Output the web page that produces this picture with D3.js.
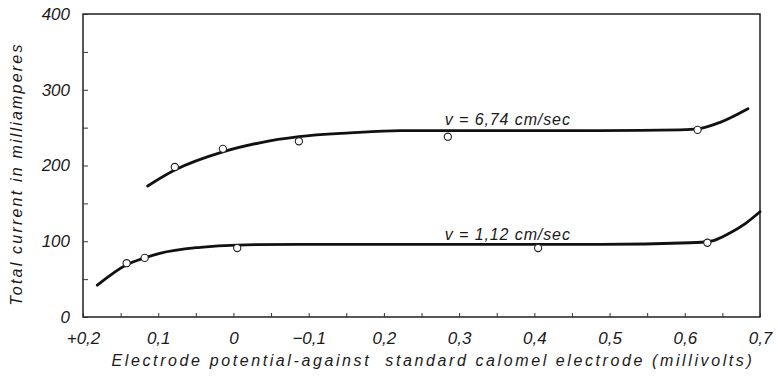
<!DOCTYPE html>
<html>
<head>
<meta charset="utf-8">
<script src="https://cdn.jsdelivr.net/npm/d3@7"></script>
<style>
  body { margin: 0; background: #fff; }
  text { font-family: 'Liberation Sans', sans-serif; font-style: italic; fill: #1a1a1a; }
</style>
</head>
<body>
<div id="chart"></div>
<script>
// x axis: electrode potential (V), printed with the odd labels of the original
const potentialTicks = [0.2, 0.1, 0, -0.1, -0.2, -0.3, -0.4, -0.5, -0.6, -0.7];
const potentialLabels = ['+0,2', '0,1', '0', '\u22120,1', '0,2', '0,3', '0,4', '0,5', '0,6', '0,7'];
const currentTicks = [0, 100, 200, 300, 400];

// v = 6,74 cm/sec : smooth curve + measured points
const fastCurveX = [0.114, 0.078, 0.014, -0.035, -0.087, -0.155, -0.222, -0.355, -0.488, -0.594, -0.621, -0.647, -0.684];
const fastCurveY = [173, 194, 218, 230, 238, 243, 246, 246, 246, 247, 249, 257, 275];
const fastPointX = [0.078, 0.014, -0.087, -0.285, -0.617];
const fastPointY = [198, 222, 232, 238, 247];

// v = 1,12 cm/sec
const slowCurveX = [0.181, 0.142, 0.118, 0.098, 0.044, -0.005, -0.089, -0.222, -0.355, -0.488, -0.607, -0.634, -0.66, -0.68, -0.7];
const slowCurveY = [42, 69, 78, 84, 92, 95, 96, 96, 96, 96, 98, 100, 111, 123, 139];
const slowPointX = [0.142, 0.118, -0.005, -0.405, -0.63];
const slowPointY = [71, 78, 91, 91, 98];

const seriesLabels = ['v = 6,74 cm/sec', 'v = 1,12 cm/sec'];
const labelAt = [[-0.281, 253], [-0.281, 102]];

const w = 778;
const h = 380;
const m = { t: 14, r: 18, b: 63, l: 83 };

const svg = d3.select('#chart').append('svg').attr('width', w).attr('height', h);

const x = d3.scaleLinear().domain([0.2, -0.7]).range([m.l, w - m.r]);
const y = d3.scaleLinear().domain([0, 400]).range([h - m.b, m.t]);

// frame
svg.append('rect')
  .attr('x', m.l).attr('y', m.t)
  .attr('width', w - m.r - m.l).attr('height', h - m.b - m.t)
  .attr('fill', 'none').attr('stroke', '#111').attr('stroke-width', 1.4);

// bottom axis: minor ticks at every 0.05, pointing in
const minorX = d3.range(0, 19).map((i) => 0.2 - i * 0.05);
svg.append('g')
  .attr('transform', `translate(0,${h - m.b})`)
  .call(d3.axisBottom(x).tickValues(minorX).tickSize(-4).tickFormat(''))
  .call((g) => g.select('.domain').remove())
  .call((g) => g.selectAll('line').attr('stroke', '#333'));

const xAxis = svg.append('g')
  .attr('transform', `translate(0,${h - m.b})`)
  .call(d3.axisBottom(x).tickValues(potentialTicks).tickSize(0).tickPadding(15)
    .tickFormat((d, i) => potentialLabels[i]));
xAxis.select('.domain').remove();
xAxis.selectAll('text').style('font-size', '17px').style('font-family', null);

// left axis
const minorY = d3.range(0, 401, 50);
svg.append('g')
  .attr('transform', `translate(${m.l},0)`)
  .call(d3.axisLeft(y).tickValues(minorY).tickSize(-5).tickFormat(''))
  .call((g) => g.select('.domain').remove())
  .call((g) => g.selectAll('line').attr('stroke', '#333'));

const yAxis = svg.append('g')
  .attr('transform', `translate(${m.l},0)`)
  .call(d3.axisLeft(y).tickValues(currentTicks).tickSize(0).tickPadding(13));
yAxis.select('.domain').remove();
yAxis.selectAll('text').style('font-size', '17px').style('font-family', null);

// curves
const line = d3.line()
  .x((d) => x(d[0]))
  .y((d) => y(d[1]))
  .curve(d3.curveMonotoneX);

const curves = [
  d3.zip(fastCurveX, fastCurveY),
  d3.zip(slowCurveX, slowCurveY),
];
svg.append('g')
  .selectAll('path')
  .data(curves)
  .join('path')
  .attr('d', line)
  .attr('fill', 'none')
  .attr('stroke', '#111')
  .attr('stroke-width', 2.8)
  .attr('stroke-linecap', 'round');

const points = d3.zip(fastPointX, fastPointY).concat(d3.zip(slowPointX, slowPointY));
svg.append('g')
  .selectAll('circle')
  .data(points)
  .join('circle')
  .attr('cx', (d) => x(d[0]))
  .attr('cy', (d) => y(d[1]))
  .attr('r', 3.6)
  .attr('fill', '#fff')
  .attr('stroke', '#222')
  .attr('stroke-width', 1.1);

svg.append('g')
  .selectAll('text')
  .data(seriesLabels)
  .join('text')
  .attr('x', (d, i) => x(labelAt[i][0]))
  .attr('y', (d, i) => y(labelAt[i][1]))
  .style('font-size', '16px')
  .style('letter-spacing', '0.9px')
  .text((d) => d);

// axis titles
svg.append('text')
  .attr('transform', 'translate(22,174) rotate(-90)')
  .attr('text-anchor', 'middle')
  .style('font-size', '16px')
  .style('letter-spacing', '2.2px')
  .text('Total current in milliamperes');

svg.append('text')
  .attr('x', 433)
  .attr('y', 366)
  .attr('text-anchor', 'middle')
  .style('font-size', '16px')
  .style('letter-spacing', '2.6px')
  .attr('xml:space', 'preserve')
  .text('Electrode potential-against  standard calomel electrode (millivolts)');
</script>
</body>
</html>
